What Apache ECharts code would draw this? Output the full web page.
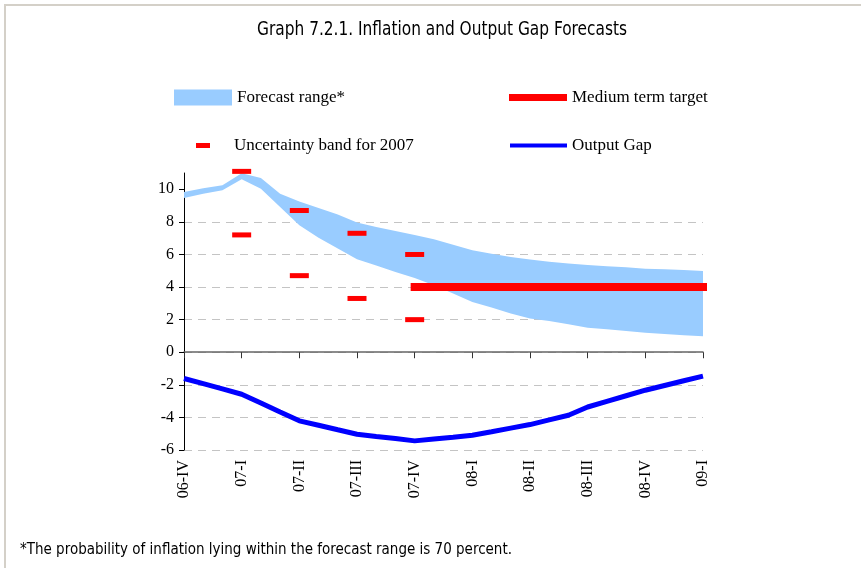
<!DOCTYPE html>
<html>
<head>
<meta charset="utf-8">
<script src="https://cdn.jsdelivr.net/npm/echarts@6/dist/echarts.min.js"></script>
<style>
  html, body { margin: 0; padding: 0; background: #ffffff; }
  #chart { width: 861px; height: 568px; }
</style>
</head>
<body>
<div id="chart"></div>
<script>
// Monthly periods from Dec 2006 to Mar 2009
const months = ['06-12', '07-01', '07-02', '07-03', '07-04', '07-05', '07-06', '07-07', '07-08', '07-09',
                '07-10', '07-11', '07-12', '08-01', '08-02', '08-03', '08-04', '08-05', '08-06', '08-07',
                '08-08', '08-09', '08-10', '08-11', '08-12', '09-01', '09-02', '09-03'];
// Quarter labels shown on every third month
const quarterLabels = ['06-IV', '07-I', '07-II', '07-III', '07-IV', '08-I', '08-II', '08-III', '08-IV', '09-I'];

// Inflation forecast range, upper and lower edge (%)
const bandUpper = [9.83, 10.06, 10.25, 10.98, 10.70, 9.73, 9.25, 8.85, 8.45, 7.96, 7.69, 7.44, 7.20, 6.93,
                   6.60, 6.26, 6.05, 5.85, 5.69, 5.56, 5.44, 5.36, 5.28, 5.21, 5.13, 5.09, 5.05, 4.99];
const bandLower = [9.47, 9.73, 9.94, 10.62, 10.04, 8.92, 7.80, 7.02, 6.36, 5.70, 5.32, 4.93, 4.56, 4.11,
                   3.60, 3.09, 2.74, 2.37, 2.07, 1.91, 1.72, 1.51, 1.41, 1.31, 1.19, 1.12, 1.04, 0.98];

// Output gap (%)
const outputGap = [-1.61, -1.93, -2.25, -2.58, -3.12, -3.67, -4.21, -4.48, -4.76, -5.03, -5.17, -5.30, -5.44, -5.33,
                   -5.22, -5.09, -4.88, -4.66, -4.44, -4.15, -3.87, -3.36, -3.01, -2.67, -2.33, -2.04, -1.75, -1.47];

// Uncertainty band for 2007, quarterly end points
const uncertaintyMonths = ['07-03', '07-06', '07-09', '07-12'];
const uncertaintyHigh = [11.1, 8.7, 7.3, 6.0];
const uncertaintyLow = [7.2, 4.7, 3.3, 2.0];

// Medium term inflation target
const targetValue = 4;
const targetFrom = '07-12';
const targetTo = '09-03';

const yTicks = [-6, -4, -2, 0, 2, 4, 6, 8, 10];

const serif = '"Liberation Serif", "Times New Roman", serif';
const narrow = '"Liberation Sans Narrow", "Arial Narrow", "DejaVu Sans Condensed", sans-serif';

const BAND = '#99ccff';
const RED = '#ff0000';
const BLUE = '#0000ff';

const chart = echarts.init(document.getElementById('chart'), null, { renderer: 'canvas' });

const uncertaintyPoints = [];
uncertaintyMonths.forEach((m, i) => {
  uncertaintyPoints.push([m, uncertaintyHigh[i]]);
  uncertaintyPoints.push([m, uncertaintyLow[i]]);
});

const targetLine = months.map((m, i) =>
  (i >= months.indexOf(targetFrom) && i <= months.indexOf(targetTo)) ? targetValue : null);

const legendText = { fontFamily: serif, fontSize: 17, color: '#000' };

chart.setOption({
  animation: false,
  backgroundColor: '#ffffff',
  graphic: [
    {
      type: 'rect', silent: true, z: -10,
      shape: { x: 5, y: 5, width: 900, height: 600 },
      style: { fill: 'none', stroke: '#d4d0c8', lineWidth: 2 }
    },
    {
      type: 'text', x: 442, y: 30, scaleX: 0.9,
      style: {
        text: 'Graph 7.2.1. Inflation and Output Gap Forecasts',
        font: '19px ' + narrow, fill: '#000', align: 'center', verticalAlign: 'middle'
      }
    },
    {
      type: 'text', x: 20, y: 550, scaleX: 0.937,
      style: {
        text: '*The probability of inflation lying within the forecast range is 70 percent.',
        font: '16px ' + narrow, fill: '#000', align: 'left', verticalAlign: 'middle'
      }
    }
  ],
  legend: [
    {
      left: 174, top: 89, padding: 0, itemWidth: 58, itemHeight: 16, selectedMode: false,
      data: [{ name: 'Forecast range*', icon: 'rect', itemStyle: { color: BAND, opacity: 1 } }],
      textStyle: legendText
    },
    {
      left: 509, top: 89, padding: 0, itemWidth: 58, itemHeight: 7, selectedMode: false,
      data: [{ name: 'Medium term target', icon: 'rect', itemStyle: { color: RED, opacity: 1 } }],
      textStyle: legendText
    },
    {
      left: 196, top: 137, padding: 0, itemWidth: 14, itemHeight: 5, selectedMode: false,
      data: [{ name: 'Uncertainty band for 2007', icon: 'rect', itemStyle: { color: RED, opacity: 1 } }],
      textStyle: Object.assign({ padding: [0, 0, 0, 19] }, legendText)
    },
    {
      left: 510, top: 137, padding: 0, itemWidth: 57, itemHeight: 4, selectedMode: false,
      data: [{ name: 'Output Gap', icon: 'rect', itemStyle: { color: BLUE, opacity: 1 } }],
      textStyle: legendText
    }
  ],
  grid: { left: 184, right: 158, top: 173, bottom: 118, containLabel: false },
  xAxis: [
    {
      // axis line through zero with quarter ticks
      type: 'category', data: months, boundaryGap: false, position: 'top',
      axisLine: { onZero: true, lineStyle: { color: '#666', width: 1.5 } },
      axisTick: { show: true, inside: true, length: 6, interval: 2, lineStyle: { color: '#333', width: 1 } },
      axisLabel: { show: false },
      splitLine: { show: false }
    },
    {
      // quarter labels along the bottom
      type: 'category', data: months, boundaryGap: false, position: 'bottom',
      axisLine: { show: false, onZero: false },
      axisTick: { show: false },
      splitLine: { show: false },
      axisLabel: {
        rotate: 90, margin: 10, interval: 2,
        fontFamily: serif, fontSize: 16, color: '#000',
        formatter: (v, i) => quarterLabels[i / 3] || ''
      }
    }
  ],
  yAxis: {
    type: 'value', min: -6, max: 11, interval: 2,
    axisLine: { show: true, onZero: false, lineStyle: { color: '#000', width: 1 } },
    axisTick: { show: true, length: 5, customValues: yTicks, lineStyle: { color: '#000' } },
    axisLabel: {
      customValues: yTicks, margin: 10,
      fontFamily: serif, fontSize: 16, color: '#000'
    },
    splitLine: {
      show: true, showMaxLine: false,
      lineStyle: { color: '#c4c4c4', type: [8, 6], width: 1 }
    }
  },
  series: [
    {
      name: 'band-base', type: 'line', stack: 'band',
      data: bandLower,
      symbol: 'none', lineStyle: { opacity: 0 }, silent: true, z: 2
    },
    {
      name: 'Forecast range*', type: 'line', stack: 'band',
      data: bandUpper.map((v, i) => +(v - bandLower[i]).toFixed(2)),
      symbol: 'none', color: BAND,
      lineStyle: { opacity: 0 },
      areaStyle: { color: BAND, opacity: 1 }, z: 2
    },
    {
      name: 'Medium term target', type: 'line',
      data: targetLine,
      symbol: 'none', color: RED,
      lineStyle: { color: RED, width: 8, cap: 'square' }, z: 4
    },
    {
      name: 'Uncertainty band for 2007', type: 'scatter',
      data: uncertaintyPoints, clip: false,
      symbol: 'rect', symbolSize: [19, 5], color: RED,
      itemStyle: { color: RED, opacity: 1 }, z: 5
    },
    {
      name: 'Output Gap', type: 'line',
      data: outputGap,
      symbol: 'none', color: BLUE,
      lineStyle: { color: BLUE, width: 5 }, z: 5
    }
  ]
});
</script>
</body>
</html>
